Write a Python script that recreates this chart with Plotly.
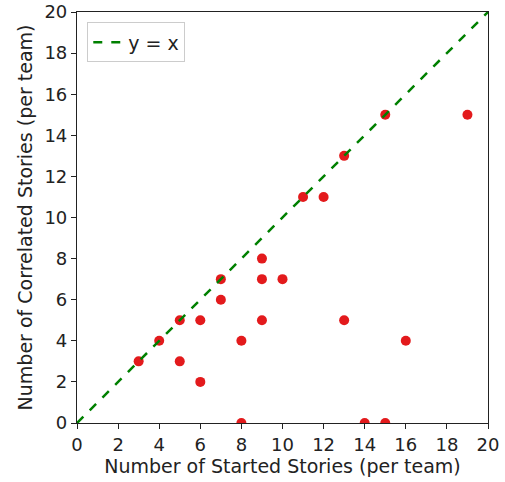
import plotly.graph_objects as go

started = [3, 4, 5, 5, 6, 6, 7, 7, 8, 8, 9, 9, 9, 10, 11, 12, 13, 13, 14, 15, 15, 16, 19]
correlated = [3, 4, 5, 3, 5, 2, 7, 6, 4, 0, 8, 7, 5, 7, 11, 11, 13, 5, 0, 15, 0, 4, 15]
line_x = [0, 20]
line_y = [0, 20]
ticks = list(range(0, 21, 2))

fig = go.Figure()
fig.add_trace(go.Scatter(
    x=started, y=correlated, mode="markers",
    marker=dict(color="#e31a1c", size=10, line=dict(width=0)),
    showlegend=False, cliponaxis=True,
))
fig.add_trace(go.Scatter(
    x=line_x, y=line_y, mode="lines", name="y = x",
    line=dict(color="#008000", width=2.5, dash="dash"),
))

axis_common = dict(
    range=[0, 20], tickvals=ticks, ticktext=[str(t) for t in ticks],
    showgrid=False, zeroline=False, showline=True, linecolor="#222",
    linewidth=1.2, mirror=True, ticks="outside", ticklen=5, tickwidth=1.2,
    tickcolor="#222", tickfont=dict(size=18, color="#222"), automargin=False,
    ticklabeloverflow="allow",
)

fig.update_layout(
    width=505, height=482,
    margin=dict(l=77, r=17, t=12, b=59),
    paper_bgcolor="white", plot_bgcolor="white",
    font=dict(family="DejaVu Sans", color="#222"),
    xaxis=dict(**axis_common, title=dict(text="Number of Started Stories (per team)", font=dict(size=19), standoff=4)),
    yaxis=dict(**axis_common, title=dict(text="Number of Correlated Stories (per team)", font=dict(size=19), standoff=6)),
    legend=dict(x=0.025, y=0.975, xanchor="left", yanchor="top",
                bordercolor="#ccc", borderwidth=1, bgcolor="white",
                font=dict(size=19)),
)

fig.write_html("out.html", config={"displayModeBar": False},
               post_script="document.body.style.margin='0';")
